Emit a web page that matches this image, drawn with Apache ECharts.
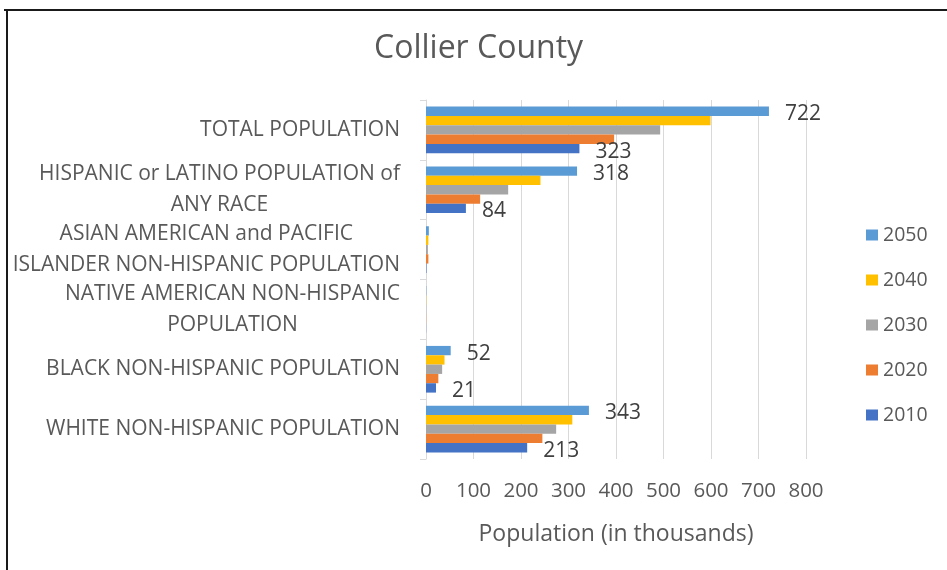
<!DOCTYPE html>
<html>
<head>
<meta charset="utf-8">
<script src="https://cdn.jsdelivr.net/npm/echarts@6/dist/echarts.min.js"></script>
<style>
  html, body { margin: 0; padding: 0; background: #fff; }
  #chart { width: 947px; height: 570px; }
</style>
</head>
<body>
<div id="chart"></div>
<script>
// Population groups, listed top to bottom
const categories = [
  'TOTAL POPULATION',
  'HISPANIC or LATINO POPULATION of\nANY RACE',
  'ASIAN AMERICAN and PACIFIC\nISLANDER NON-HISPANIC POPULATION',
  'NATIVE AMERICAN NON-HISPANIC\nPOPULATION',
  'BLACK NON-HISPANIC POPULATION',
  'WHITE NON-HISPANIC POPULATION'
];

// Projection years (legend order, top to bottom)
const years = ['2050', '2040', '2030', '2020', '2010'];

// Population in thousands, one array per year, same order as categories
const pop2050 = [722, 318, 6, 0.6, 52, 343];
const pop2040 = [599, 241, 5, 0.5, 39, 308];
const pop2030 = [493, 173, 4, 0.5, 34, 274];
const pop2020 = [396, 114, 5, 0.4, 26, 245];
const pop2010 = [323, 84, 1, 0.3, 21, 213];

// Which groups carry a value label (2050 and 2010 series only)
const labeledGroups = [true, true, false, false, true, true];

const xTicks = [0, 100, 200, 300, 400, 500, 600, 700, 800];

const seriesValues = [pop2050, pop2040, pop2030, pop2020, pop2010];
const colors = ['#5B9BD5', '#FFC000', '#A5A5A5', '#ED7D31', '#4472C4'];
const labeledYears = ['2050', '2010'];

const FONT = 'Open Sans';
const TEXT = '#595959';

const chart = echarts.init(document.getElementById('chart'), null, { renderer: 'canvas' });

const series = years.map((yr, si) => ({
  name: yr,
  type: 'bar',
  barGap: '0%',
  barCategoryGap: '22%',
  itemStyle: { color: colors[si] },
  data: seriesValues[si].map((v, ci) => ({
    value: v,
    label: {
      show: labeledYears.includes(yr) && labeledGroups[ci],
      position: 'right',
      distance: 16,
      offset: [0, 3],
      color: '#404040',
      fontFamily: FONT,
      fontSize: 21
    }
  }))
}));

chart.setOption({
  animation: false,
  backgroundColor: '#fff',
  color: colors,
  title: {
    text: 'Collier County',
    left: 369,
    top: 28,
    textStyle: { fontFamily: FONT, fontSize: 32, fontWeight: 'normal', color: TEXT }
  },
  legend: {
    orient: 'vertical',
    left: 861,
    top: 219,
    itemWidth: 12,
    itemHeight: 11,
    itemGap: 23,
    icon: 'rect',
    textStyle: { fontFamily: FONT, fontSize: 19.5, color: TEXT, lineHeight: 22 },
    data: years
  },
  grid: { left: 426, right: 141, top: 100, bottom: 111, containLabel: false },
  xAxis: {
    type: 'value',
    min: xTicks[0],
    max: xTicks[xTicks.length - 1],
    interval: 100,
    name: 'Population (in thousands)',
    nameLocation: 'middle',
    nameGap: 64,
    nameTextStyle: { fontFamily: FONT, fontSize: 23, color: TEXT },
    axisLine: { show: false },
    axisTick: { show: false },
    axisLabel: { fontFamily: FONT, fontSize: 20.5, color: TEXT, margin: 22 },
    splitLine: { lineStyle: { color: '#d9d9d9', width: 1 } }
  },
  yAxis: {
    type: 'category',
    inverse: true,
    data: categories,
    axisLine: { lineStyle: { color: '#d9d9d9', width: 1 } },
    axisTick: { show: true, length: 6, lineStyle: { color: '#d9d9d9' } },
    axisLabel: {
      margin: 26,
      align: 'right',
      formatter: (v) => v.split('\n').map(s => '{c|' + s + '}').join('\n'),
      rich: {
        c: { align: 'center', fontFamily: FONT, fontSize: 21, color: TEXT, lineHeight: 31 }
      }
    }
  },
  graphic: [
    { type: 'line', shape: { x1: 4, y1: 10, x2: 947, y2: 10 }, style: { stroke: '#1a1a1a', lineWidth: 2 }, z: 100 },
    { type: 'line', shape: { x1: 7, y1: 9, x2: 7, y2: 570 }, style: { stroke: '#1a1a1a', lineWidth: 2 }, z: 100 }
  ],
  series: series
});
</script>
</body>
</html>
